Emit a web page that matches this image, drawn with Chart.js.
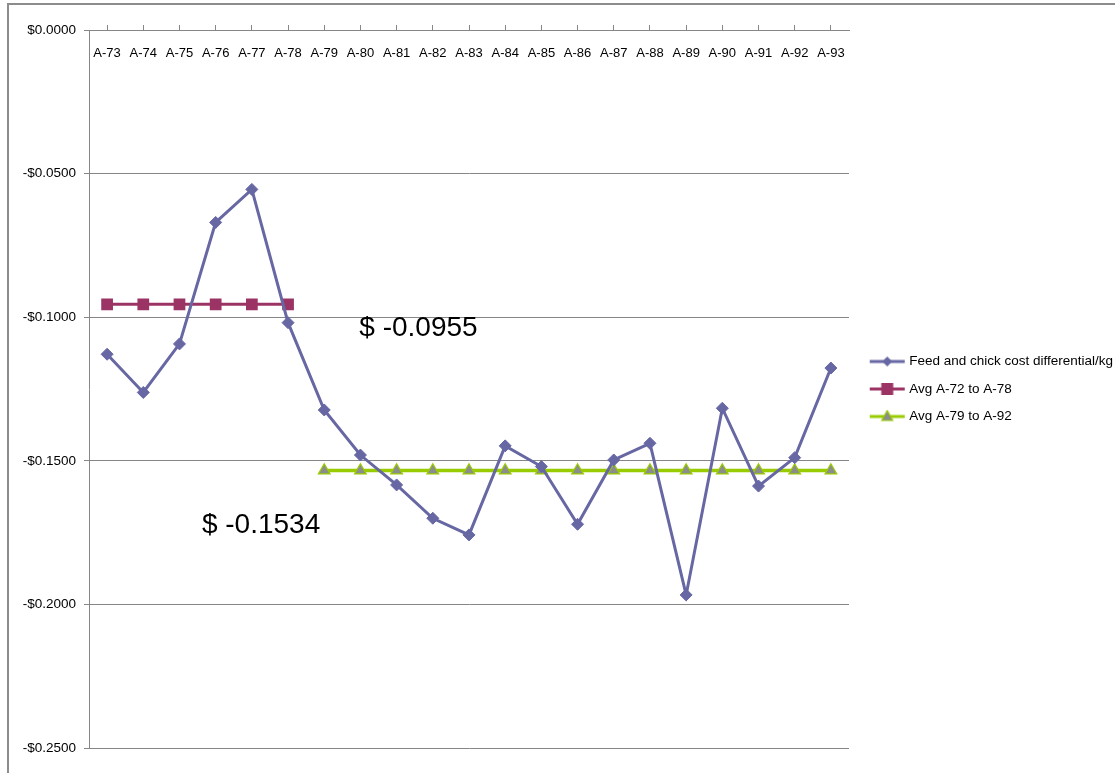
<!DOCTYPE html>
<html>
<head>
<meta charset="utf-8">
<script src="https://cdn.jsdelivr.net/npm/chart.js@4.4.1/dist/chart.umd.min.js"></script>
<style>
  body { margin: 0; background: #fff; }
  .frame { position: absolute; left: 7px; top: 3px; width: 1200px; height: 900px;
           border-left: 2px solid #8c8c8c; border-top: 2px solid #8c8c8c; }
  #chart { position: absolute; left: 0; top: 0; }
</style>
</head>
<body>
<div class="frame"></div>
<canvas id="chart" width="1115" height="773"></canvas>
<script>
const labels = ['A-73', 'A-74', 'A-75', 'A-76', 'A-77', 'A-78', 'A-79', 'A-80', 'A-81', 'A-82', 'A-83',
                'A-84', 'A-85', 'A-86', 'A-87', 'A-88', 'A-89', 'A-90', 'A-91', 'A-92', 'A-93'];

const costDiff = [-0.1129, -0.1262, -0.1093, -0.0670, -0.0555, -0.1019, -0.1323, -0.1480, -0.1584, -0.1700, -0.1758,
                  -0.1448, -0.1520, -0.1721, -0.1497, -0.1439, -0.1967, -0.1317, -0.1588, -0.1489, -0.1177];

const avgEarly = [-0.0955, -0.0955, -0.0955, -0.0955, -0.0955, -0.0955, null, null, null, null, null,
                  null, null, null, null, null, null, null, null, null, null];

const avgLate = [null, null, null, null, null, null, -0.1534, -0.1534, -0.1534, -0.1534, -0.1534,
                 -0.1534, -0.1534, -0.1534, -0.1534, -0.1534, -0.1534, -0.1534, -0.1534, -0.1534, -0.1534];

const yTicks = [0, -0.05, -0.10, -0.15, -0.20, -0.25];

const seriesNames = ['Feed and chick cost differential/kg', 'Avg A-72 to A-78', 'Avg A-79 to A-92'];

// text notes, placed by category index and value
const notes = [
    { text: '$ -0.0955', index: 6.97, value: -0.1038 },
    { text: '$ -0.1534', index: 2.62, value: -0.1724 }
];

const BLUE = '#6667a3';
const MAROON = '#9b3465';
const GREEN = '#99cc00';
const GREY = '#8c8c8c';
const AXIS = '#868686';
const FONT = '"Liberation Sans", Arial, sans-serif';

// little line+marker pictures for the legend
function legendSwatch(color, marker, fill) {
    const c = document.createElement('canvas');
    c.width = 46; c.height = 14;
    const g = c.getContext('2d');
    g.strokeStyle = color;
    g.lineWidth = 3;
    g.beginPath(); g.moveTo(10, 7); g.lineTo(45, 7); g.stroke();
    const cx = 27.5, cy = 7;
    g.fillStyle = fill || color;
    g.beginPath();
    if (marker === 'diamond') {
        g.moveTo(cx, cy - 5); g.lineTo(cx + 5, cy); g.lineTo(cx, cy + 5); g.lineTo(cx - 5, cy);
    } else if (marker === 'square') {
        g.rect(cx - 6, cy - 6, 12, 12);
    } else {
        g.moveTo(cx, cy - 6); g.lineTo(cx + 5.5, cy + 4); g.lineTo(cx - 5.5, cy + 4);
    }
    g.closePath();
    g.fill();
    if (marker === 'triangle') { g.lineWidth = 1.2; g.strokeStyle = color; g.stroke(); }
    return c;
}

const swatches = [
    legendSwatch(BLUE, 'diamond'),
    legendSwatch(MAROON, 'square'),
    legendSwatch(GREEN, 'triangle', GREY)
];

// size the right padding so the plot ends where the original's does
// (chart.js adds 10px to the width of a vertical legend)
const LEG_FONT = 13.5, LEG_PAD = 14, LEG_BOX = 39.5;
const measure = document.createElement('canvas').getContext('2d');
measure.font = LEG_FONT + 'px ' + FONT;
const widest = Math.max(...seriesNames.map(t => measure.measureText(t).width));
const padRight = 1115 - 849 - (10 + LEG_PAD + LEG_BOX + LEG_FONT / 2 + widest);

const notesPlugin = {
    id: 'notes',
    afterDatasetsDraw(chart) {
        const ctx = chart.ctx;
        const x = chart.scales.x, y = chart.scales.y;
        ctx.save();
        ctx.font = '28px ' + FONT;
        ctx.fillStyle = '#000';
        ctx.textAlign = 'left';
        ctx.textBaseline = 'middle';
        notes.forEach(n => {
            ctx.fillText(n.text, x.getPixelForValue(n.index), y.getPixelForValue(n.value));
        });
        ctx.restore();
    }
};

new Chart(document.getElementById('chart').getContext('2d'), {
    type: 'line',
    data: {
        labels: labels,
        datasets: [{
            label: seriesNames[0],
            data: costDiff,
            borderColor: BLUE, backgroundColor: BLUE,
            borderWidth: 3, tension: 0,
            pointStyle: 'rectRot', pointRadius: 6, pointBorderWidth: 1,
            order: 0
        }, {
            label: seriesNames[1],
            data: avgEarly,
            borderColor: MAROON, backgroundColor: MAROON,
            borderWidth: 3, tension: 0,
            pointStyle: 'rect', pointRadius: 8.3, pointBorderWidth: 0,
            order: 1
        }, {
            label: seriesNames[2],
            data: avgLate,
            borderColor: GREEN, backgroundColor: GREY,
            borderWidth: 3.5, tension: 0,
            pointStyle: 'triangle', pointRadius: 6.8, pointBorderWidth: 1.2,
            pointBorderColor: GREEN,
            order: 2
        }]
    },
    options: {
        responsive: false,
        animation: false,
        layout: { padding: { left: 0, top: 3, right: padRight, bottom: 25 } },
        plugins: {
            tooltip: { enabled: false },
            legend: {
                position: 'right',
                fullSize: false,
                align: 'center',
                labels: {
                    usePointStyle: true,
                    pointStyleWidth: LEG_BOX,
                    padding: LEG_PAD,
                    color: '#000',
                    font: { family: FONT, size: LEG_FONT },
                    generateLabels: () => seriesNames.map((name, i) => ({
                        text: name,
                        pointStyle: swatches[i],
                        fillStyle: 'rgba(0,0,0,0)',
                        strokeStyle: 'rgba(0,0,0,0)',
                        lineWidth: 0,
                        hidden: false,
                        datasetIndex: i
                    }))
                }
            }
        },
        scales: {
            x: {
                type: 'category',
                position: 'top',
                offset: true,
                grid: { drawOnChartArea: false, drawTicks: true, tickLength: 5, color: AXIS },
                border: { color: AXIS, width: 1 },
                ticks: {
                    mirror: true,
                    padding: 16,
                    autoSkip: false, maxRotation: 0, minRotation: 0,
                    color: '#000',
                    font: { family: FONT, size: 13 }
                },
                afterFit: s => { s.height = 27; }
            },
            y: {
                min: -0.25,
                max: 0,
                afterBuildTicks: s => { s.ticks = yTicks.map(v => ({ value: v })); },
                grid: { color: AXIS, tickLength: 5, lineWidth: 1 },
                border: { color: AXIS, width: 1 },
                ticks: {
                    padding: 8,
                    color: '#000',
                    font: { family: FONT, size: 13.5 },
                    callback: v => (v < 0 ? '-' : '') + '$' + Math.abs(v).toFixed(4)
                },
                afterFit: s => { s.width = 89; }
            }
        }
    },
    plugins: [notesPlugin]
});
</script>
</body>
</html>
